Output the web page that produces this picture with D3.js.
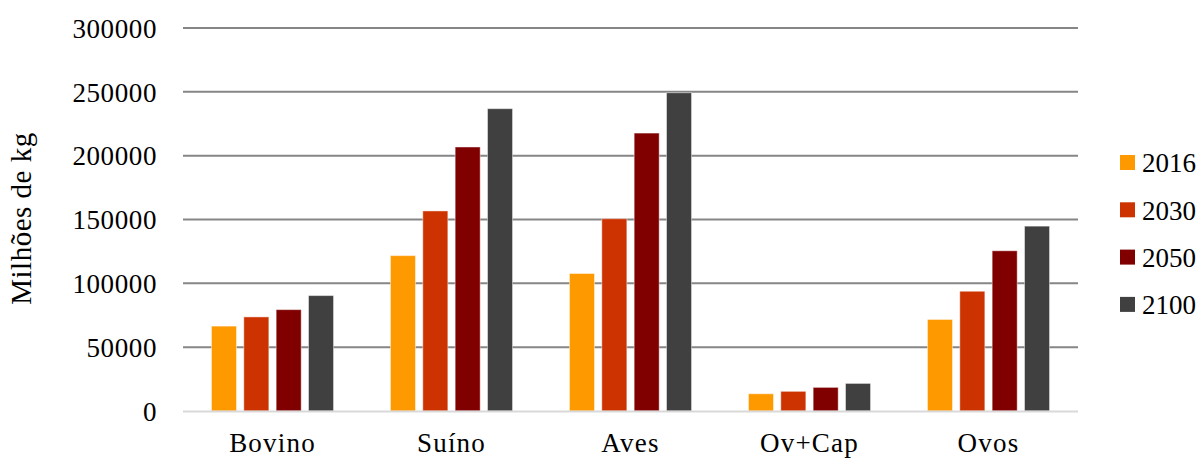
<!DOCTYPE html>
<html>
<head>
<meta charset="utf-8">
<script src="https://cdn.jsdelivr.net/npm/d3@7"></script>
<style>
  html, body { margin: 0; padding: 0; background: #fff; }
  svg { display: block; }
  text { font-family: "Liberation Serif", "Times New Roman", serif; fill: #000; }
</style>
</head>
<body>
<svg id="chart" width="1201" height="459"></svg>
<script>
const categories = ["Bovino", "Suíno", "Aves", "Ov+Cap", "Ovos"];
const seriesNames = ["2016", "2030", "2050", "2100"];
const values2016 = [66500, 121700, 107700, 13500, 71700];
const values2030 = [73700, 156700, 150600, 15400, 93800];
const values2050 = [79400, 206800, 217700, 18500, 125500];
const values2100 = [90400, 236800, 249300, 21600, 144800];
const seriesValues = [values2016, values2030, values2050, values2100];
const colors = ["#FF9900", "#CC3300", "#800000", "#404040"];
const yTicks = [0, 50000, 100000, 150000, 200000, 250000, 300000];
const yTitle = "Milhões de kg";

const svg = d3.select("#chart");
const plotLeft = 183, plotRight = 1078, plotTop = 28, plotBottom = 411;
const serif = '"Liberation Serif", "Times New Roman", serif';

const y = d3.scaleLinear().domain([0, 300000]).range([plotBottom, plotTop]);
const x0 = d3.scaleBand().domain(categories).range([plotLeft, plotRight])
  .paddingInner(0.318).paddingOuter(0.159);
const x1 = d3.scaleBand().domain(seriesNames).range([0, x0.bandwidth()])
  .paddingInner(0.226).paddingOuter(0);

// gridlines
svg.append("g").selectAll("line")
  .data(yTicks.filter(d => d > 0)).join("line")
  .attr("x1", plotLeft).attr("x2", plotRight)
  .attr("y1", d => y(d)).attr("y2", d => y(d))
  .attr("stroke", "#868686").attr("stroke-width", 2);

// y axis labels
const yAxis = d3.axisLeft(y).tickValues(yTicks).tickSize(0).tickPadding(0).tickFormat(d3.format("d"));
const gy = svg.append("g").attr("transform", `translate(157,0)`).call(yAxis);
gy.select(".domain").remove();
gy.selectAll("text")
  .style("font-family", serif)
  .style("font-size", "27px").style("letter-spacing", "0.6px")
  .attr("fill", "#000").attr("dy", "0.34em");

// bars
const groups = svg.append("g").selectAll("g")
  .data(categories).join("g")
  .attr("transform", d => `translate(${x0(d)},0)`);
groups.selectAll("rect")
  .data((c, ci) => seriesNames.map((s, si) => ({ s, v: seriesValues[si][ci], si })))
  .join("rect")
  .attr("x", d => x1(d.s))
  .attr("width", x1.bandwidth())
  .attr("y", d => y(d.v))
  .attr("height", d => plotBottom - y(d.v))
  .attr("fill", d => colors[d.si])
  .attr("stroke", "#ffffff").attr("stroke-opacity", 0.45).attr("stroke-width", 1);

// baseline
svg.append("line").attr("x1", plotLeft).attr("x2", plotRight)
  .attr("y1", plotBottom + 0.5).attr("y2", plotBottom + 0.5)
  .attr("stroke", "#d9d9d9").attr("stroke-width", 2);

// x axis labels
const xAxis = d3.axisBottom(x0).tickSize(0).tickPadding(0);
const gx = svg.append("g").attr("transform", `translate(0,${plotBottom})`).call(xAxis);
gx.select(".domain").remove();
gx.selectAll("text")
  .style("font-family", serif)
  .style("font-size", "27px").style("letter-spacing", "1.2px")
  .attr("fill", "#000")
  .attr("y", 41).attr("dy", 0);

// y title
svg.append("text")
  .attr("transform", "translate(31,218.5) rotate(-90)")
  .attr("text-anchor", "middle")
  .style("font-size", "29px").style("letter-spacing", "0.5px")
  .text(yTitle);

// legend
const legend = svg.append("g").selectAll("g")
  .data(seriesNames).join("g")
  .attr("transform", (d, i) => `translate(1120,${163 + i * 47.3})`);
legend.append("rect").attr("x", 0).attr("y", -8).attr("width", 15).attr("height", 15)
  .attr("fill", (d, i) => colors[i]);
legend.append("text").attr("x", 22).attr("y", 0).attr("dy", "0.35em")
  .style("font-size", "27px").text(d => d);
</script>
</body>
</html>
